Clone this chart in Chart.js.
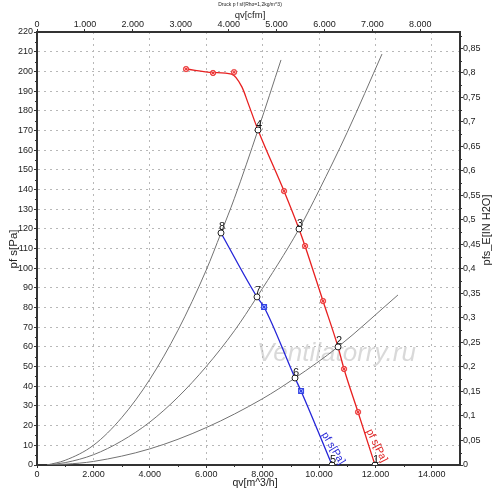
<!DOCTYPE html>
<html><head><meta charset="utf-8">
<script src="https://cdn.jsdelivr.net/npm/chart.js@4.4.1/dist/chart.umd.min.js"></script>
<style>html,body{margin:0;padding:0;background:#fff}canvas{display:block}</style>
</head><body>
<canvas id="c" width="500" height="503"></canvas>
<script>
// ---- data ----
const chartTitle = 'Druck p f sf(Rho=1,2kg/m^3)';
const watermark = 'Ventilatorry.ru';
const xTitle = 'qv[m^3/h]', x2Title = 'qv[cfm]', yTitle = 'pf s[Pa]', y2Title = 'pfs_E[IN H2O]';
const curveLabel = 'pf s[Pa]';

// red fan curve pf s [Pa] vs qv [m^3/h]
const redCurveQ = [5284, 6241, 6900, 7270, 7482, 7837, 8759, 9291, 9504, 10142, 10674, 10887, 11383, 11986];
const redCurveP = [201.2, 199.4, 198.6, 192, 184, 170.2, 139.2, 119.9, 111.3, 83.3, 60, 48.8, 26.9, 0];
const redMarkQ = [5284, 6241, 6986, 8759, 9504, 10142, 10887, 11383];
const redMarkP = [201.2, 199.2, 199.6, 139.2, 111.3, 83.3, 48.8, 26.9];

// blue fan curve pf s [Pa]
const blueCurveQ = [6525, 7801, 8050, 9149, 9362, 10461];
const blueCurveP = [117.9, 85.4, 80.3, 44.2, 37.6, 0];
const blueMarkQ = [8050, 9362];
const blueMarkP = [80.3, 37.6];

// operating points
const opQ = [11986, 10674, 9291, 7837, 10461, 9149, 7801, 6525];
const opP = [0, 60, 119.9, 170.2, 0, 44.2, 85.4, 117.9];
const opLabels = ['1', '2', '3', '4', '5', '6', '7', '8'];

// system curves (gray)
const sysAQ = [355, 1000, 2000, 3000, 4000, 5000, 6000, 6525, 7000, 7837, 8652];
const sysAP = [0, 2.4, 10, 24, 43.5, 68.5, 99, 117.9, 135.5, 170.2, 205.8];
const sysBQ = [355, 1000, 2000, 3000, 4000, 5000, 6000, 7000, 7801, 9291, 10000, 11000, 12234];
const sysBP = [0, 1.2, 5.2, 12.2, 21.8, 34.5, 50, 68.2, 85.4, 119.9, 139.5, 169, 208.8];
const sysCQ = [355, 1000, 2000, 4000, 6000, 8000, 9149, 10674, 12801];
const sysCP = [0, 0.4, 1.8, 8.2, 19, 33.7, 44.2, 60, 86.4];

// axes
const xTicksM3h = [0, 2000, 4000, 6000, 8000, 10000, 12000, 14000];
const xTicksCfm = [0, 1000, 2000, 3000, 4000, 5000, 6000, 7000, 8000];
const yTicksPa = [0,10,20,30,40,50,60,70,80,90,100,110,120,130,140,150,160,170,180,190,200,210,220];
const yTicksInH2O = [0,0.05,0.1,0.15,0.2,0.25,0.3,0.35,0.4,0.45,0.5,0.55,0.6,0.65,0.7,0.75,0.8,0.85];
const X_MAX = 15000, Y_MAX = 220;
const M3H_PER_CFM = 1.69901, PA_PER_INH2O = 249.089;

// ---- helpers ----
const pts = (q, p) => q.map((v, i) => ({x: v, y: p[i]}));
const deFmt = v => v.toLocaleString('de-DE');
const decFmt = v => String(Number(v.toFixed(2))).replace('.', ',');

function markerCanvas(kind) {
  const c = document.createElement('canvas');
  c.width = 8; c.height = 8;
  const g = c.getContext('2d');
  g.lineWidth = 0.9;
  if (kind === 'red') {
    g.fillStyle = 'rgba(255,150,150,0.75)';
    g.strokeStyle = '#e83030';
    g.beginPath(); g.arc(4, 4, 2.7, 0, Math.PI * 2); g.fill(); g.stroke();
    g.beginPath(); g.moveTo(2.2, 2.2); g.lineTo(5.8, 5.8); g.moveTo(5.8, 2.2); g.lineTo(2.2, 5.8); g.stroke();
  } else {
    g.fillStyle = 'rgba(130,150,255,0.85)';
    g.strokeStyle = '#2838e0';
    g.fillRect(1.5, 1.5, 5, 5); g.strokeRect(1.5, 1.5, 5, 5);
    g.beginPath(); g.moveTo(2.3, 2.3); g.lineTo(5.7, 5.7); g.moveTo(5.7, 2.3); g.lineTo(2.3, 5.7); g.stroke();
  }
  return c;
}

const FONT = "'Liberation Sans', Arial, sans-serif";
const gray = '#727272';

const sysDs = (q, p) => ({
  data: pts(q, p), showLine: true, borderColor: gray, borderWidth: 1,
  pointRadius: 0, cubicInterpolationMode: 'monotone', order: 5
});

const extras = {
  id: 'extras',
  beforeDatasetsDraw(chart) {
    const {ctx} = chart;
    ctx.save();
    ctx.font = "italic 26px " + FONT;
    ctx.fillStyle = 'rgba(185,185,185,0.55)';
    ctx.textAlign = 'left'; ctx.textBaseline = 'alphabetic';
    const x = chart.scales.x.getPixelForValue(7800);
    const y = chart.scales.y.getPixelForValue(53);
    ctx.fillText(watermark, x, y);
    ctx.restore();
  },
  afterDatasetsDraw(chart) {
    const {ctx} = chart;
    ctx.save();
    // operating point labels
    const meta = chart.getDatasetMeta(chart.data.datasets.findIndex(d => d.id === 'op'));
    ctx.font = "11px " + FONT; ctx.fillStyle = '#111';
    ctx.textAlign = 'center'; ctx.textBaseline = 'alphabetic';
    meta.data.forEach((el, i) => ctx.fillText(opLabels[i], el.x + 1, el.y - 2.5));
    // curve labels
    [['blue', '#2a2ad8', 15], ['red', '#e02020', 18]].forEach(([id, col, back]) => {
      const m = chart.getDatasetMeta(chart.data.datasets.findIndex(d => d.id === id));
      const e = m.data[m.data.length - 1], p = m.data[m.data.length - 2];
      const dx = e.x - p.x, dy = e.y - p.y, L = Math.hypot(dx, dy);
      const ux = dx / L, uy = dy / L;
      const cx = e.x - ux * back + uy * 7.5, cy = e.y - uy * back - ux * 7.5;
      ctx.save();
      ctx.translate(cx, cy); ctx.rotate(Math.atan2(dy, dx) - 0.15);
      ctx.font = "10.5px " + FONT; ctx.fillStyle = col;
      ctx.textAlign = 'center'; ctx.textBaseline = 'middle';
      ctx.fillText(curveLabel, 0, 0);
      ctx.restore();
    });
    ctx.restore();
  },
  afterDraw(chart) {
    const {ctx, chartArea: a, scales} = chart;
    ctx.save();
    ctx.strokeStyle = '#333'; ctx.lineWidth = 1;
    ctx.beginPath();
    for (let v = 5; v < Y_MAX; v += 10) {
      const y = Math.round(scales.y.getPixelForValue(v)) + 0.5;
      ctx.moveTo(a.left - 2, y); ctx.lineTo(a.left, y);
    }
    for (let v = 0.025; v < Y_MAX / PA_PER_INH2O; v += 0.05) {
      const y = Math.round(scales.y2.getPixelForValue(v)) + 0.5;
      ctx.moveTo(a.right, y); ctx.lineTo(a.right + 2, y);
    }
    for (let v = 1000; v < X_MAX; v += 2000) {
      const x = Math.round(scales.x.getPixelForValue(v)) + 0.5;
      ctx.moveTo(x, a.bottom); ctx.lineTo(x, a.bottom + 2);
    }
    ctx.stroke();
    ctx.fillStyle = '#222';
    ctx.textAlign = 'center'; ctx.textBaseline = 'middle';
    // chart title
    ctx.font = "5px " + FONT;
    ctx.fillText(chartTitle, 250, 5);
    // axis titles
    ctx.font = "9.5px " + FONT;
    ctx.fillText(x2Title, 250, 15);
    ctx.font = "10.5px " + FONT;
    ctx.fillText(xTitle, 255, 483);
    ctx.save();
    ctx.translate(14, 249); ctx.rotate(-Math.PI / 2);
    ctx.font = "11.5px " + FONT;
    ctx.fillText(yTitle, 0, 0);
    ctx.restore();
    ctx.save();
    ctx.translate(487, 230); ctx.rotate(-Math.PI / 2);
    ctx.font = "11px " + FONT;
    ctx.fillText(y2Title, 0, 0);
    ctx.restore();
    ctx.restore();
  }
};

const tickFont = {family: FONT, size: 9, lineHeight: 1};
const axisBorder = {display: true, color: '#333', width: 2};

new Chart(document.getElementById('c'), {
  type: 'scatter',
  data: {
    datasets: [
      {id: 'op', data: pts(opQ, opP), pointRadius: 3, pointBackgroundColor: '#fff',
       pointBorderColor: '#222', pointBorderWidth: 1, showLine: false, order: 0},
      {id: 'redMarks', data: pts(redMarkQ, redMarkP), pointStyle: markerCanvas('red'), showLine: false, order: 1},
      {id: 'blueMarks', data: pts(blueMarkQ, blueMarkP), pointStyle: markerCanvas('blue'), showLine: false, order: 1},
      {id: 'red', data: pts(redCurveQ, redCurveP), showLine: true, borderColor: '#e82020', borderWidth: 1.3,
       pointRadius: 0, cubicInterpolationMode: 'monotone', order: 2},
      {id: 'blue', data: pts(blueCurveQ, blueCurveP), showLine: true, borderColor: '#2525d8', borderWidth: 1.3,
       pointRadius: 0, cubicInterpolationMode: 'monotone', order: 2},
      Object.assign({id: 'sysA'}, sysDs(sysAQ, sysAP)),
      Object.assign({id: 'sysB'}, sysDs(sysBQ, sysBP)),
      Object.assign({id: 'sysC'}, sysDs(sysCQ, sysCP))
    ]
  },
  options: {
    responsive: false, animation: false, devicePixelRatio: 1,
    layout: {padding: 0},
    plugins: {legend: {display: false}, tooltip: {enabled: false}, title: {display: false}},
    scales: {
      x: {
        type: 'linear', position: 'bottom', min: 0, max: X_MAX,
        afterBuildTicks: s => { s.ticks = xTicksM3h.map(v => ({value: v})); },
        afterFit: s => { s.height = 38; },
        ticks: {font: tickFont, color: '#222', padding: 2, maxRotation: 0, callback: v => deFmt(v)},
        grid: {color: '#b8b8b8', lineWidth: 1, tickLength: 3, tickColor: '#333'},
        border: Object.assign({dash: [2, 4]}, axisBorder)
      },
      x2: {
        type: 'linear', position: 'top', min: 0, max: X_MAX / M3H_PER_CFM,
        afterBuildTicks: s => { s.ticks = xTicksCfm.map(v => ({value: v})); },
        afterFit: s => { s.height = 32; },
        ticks: {font: tickFont, color: '#222', padding: 0, maxRotation: 0, callback: v => deFmt(v)},
        grid: {drawOnChartArea: false, tickLength: 3, tickColor: '#333'},
        border: axisBorder
      },
      y: {
        type: 'linear', position: 'left', min: 0, max: Y_MAX,
        afterBuildTicks: s => { s.ticks = yTicksPa.map(v => ({value: v})); },
        afterFit: s => { s.width = 37; },
        ticks: {font: tickFont, color: '#222', padding: 1, callback: v => String(v)},
        grid: {color: '#b8b8b8', lineWidth: 1, tickLength: 3, tickColor: '#333'},
        border: Object.assign({dash: [2, 4]}, axisBorder)
      },
      y2: {
        type: 'linear', position: 'right', min: 0, max: Y_MAX / PA_PER_INH2O,
        afterBuildTicks: s => { s.ticks = yTicksInH2O.map(v => ({value: v})); },
        afterFit: s => { s.width = 40; },
        ticks: {font: tickFont, color: '#222', padding: 0, callback: v => decFmt(v)},
        grid: {drawOnChartArea: false, tickLength: 3, tickColor: '#333'},
        border: axisBorder
      }
    }
  },
  plugins: [extras]
});
</script>
</body></html>
